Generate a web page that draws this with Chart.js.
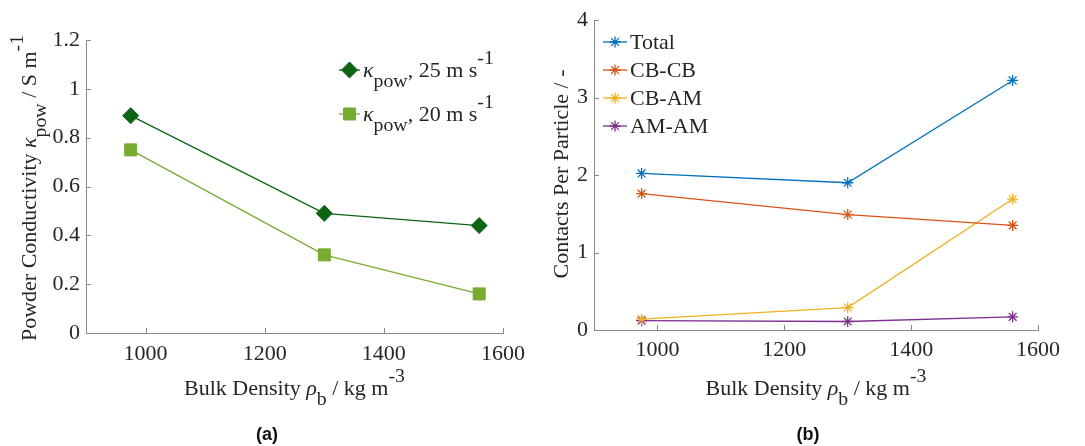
<!DOCTYPE html>
<html>
<head>
<meta charset="utf-8">
<script src="https://cdn.jsdelivr.net/npm/chart.js@4.4.1/dist/chart.umd.min.js"></script>
<style>
  body { margin: 0; background: #fff; }
  #wrap { position: relative; width: 1085px; height: 446px; overflow: hidden; }
  .panel { position: absolute; top: 0; }
  .tag { position: absolute; top: 424px; font: bold 18px "Liberation Sans", Arial, sans-serif; color: #111; transform: translateX(-50%); }
</style>
</head>
<body>
<div id="wrap">
  <canvas id="chartA" class="panel" style="left:0" width="540" height="446"></canvas>
  <canvas id="chartB" class="panel" style="left:540px" width="545" height="446"></canvas>
  <div class="tag" style="left:267px">(a)</div>
  <div class="tag" style="left:808px">(b)</div>
</div>
<script>
// panel (a): powder conductivity
const densityA = [975, 1300, 1560];
const kappa25 = [0.89, 0.49, 0.44];
const kappa20 = [0.75, 0.32, 0.16];
const yTicksA = [0, 0.2, 0.4, 0.6, 0.8, 1, 1.2];
const yLabelsA = ["0", "0.2", "0.4", "0.6", "0.8", "1", "1.2"];

// panel (b): contacts per particle
const densityB = [975, 1300, 1560];
const total = [2.02, 1.90, 3.22];
const cbcb = [1.76, 1.49, 1.35];
const cbam = [0.14, 0.29, 1.69];
const amam = [0.12, 0.11, 0.17];
const yTicksB = [0, 1, 2, 3, 4];
const yLabelsB = ["0", "1", "2", "3", "4"];

const xTicks = [1000, 1200, 1400, 1600];
const xLabels = ["1000", "1200", "1400", "1600"];

// rich text pieces: [text, kind]  kind: "" normal, "i" italic, "sub", "sup"
const legendA = [
  [["κ", "i"], ["pow", "sub"], [", 25 m s", ""], ["-1", "sup"]],
  [["κ", "i"], ["pow", "sub"], [", 20 m s", ""], ["-1", "sup"]]
];
const legendB = [[["Total", ""]], [["CB-CB", ""]], [["CB-AM", ""]], [["AM-AM", ""]]];
const xTitle = [["Bulk Density ", ""], ["ρ", "i"], ["b", "sub"], [" / kg m", ""], ["-3", "sup"]];
const yTitleA = [["Powder Conductivity ", ""], ["κ", "i"], ["pow", "sub"], [" / S m", ""], ["-1", "sup"]];
const yTitleB = [["Contacts Per Particle / -", ""]];

const SERIF = '"Liberation Serif", "Times New Roman", serif';
const FS = 22;
const AXIS = "#8a8a8a";
const TXT = "#262626";

function pieceFont(kind) {
  const size = (kind === "sub" || kind === "sup") ? FS * 0.9 : FS;
  return (kind === "i" ? "italic " : "") + size + "px " + SERIF;
}

function richWidth(ctx, parts) {
  let w = 0;
  parts.forEach(([t, k]) => { ctx.font = pieceFont(k); w += ctx.measureText(t).width; });
  return w;
}

function drawRich(ctx, parts, x, y, center) {
  let cx = center ? x - richWidth(ctx, parts) / 2 : x;
  ctx.textAlign = "left";
  ctx.textBaseline = "alphabetic";
  parts.forEach(([t, k]) => {
    ctx.font = pieceFont(k);
    const dy = k === "sub" ? FS * 0.45 : k === "sup" ? -FS * 0.6 : 0;
    ctx.fillText(t, cx, y + dy);
    cx += ctx.measureText(t).width;
  });
}

// inward tick marks, axis titles and legend
const decor = {
  id: "decor",
  afterDraw(chart, args, o) {
    const { ctx, chartArea: a, scales: { x, y } } = chart;
    ctx.save();
    ctx.strokeStyle = AXIS;
    ctx.lineWidth = 1;
    ctx.beginPath();
    x.ticks.forEach(t => {
      const px = Math.round(x.getPixelForValue(t.value)) + 0.5;
      ctx.moveTo(px, a.bottom); ctx.lineTo(px, a.bottom - 5);
    });
    y.ticks.forEach(t => {
      const py = Math.round(y.getPixelForValue(t.value)) + 0.5;
      ctx.moveTo(a.left, py); ctx.lineTo(a.left + 5, py);
    });
    ctx.stroke();

    ctx.fillStyle = TXT;
    drawRich(ctx, xTitle, (a.left + a.right) / 2, o.xBase, true);
    ctx.save();
    ctx.translate(o.yBase, (a.top + a.bottom) / 2 + o.yShift);
    ctx.rotate(-Math.PI / 2);
    drawRich(ctx, o.yTitle, 0, 0, true);
    ctx.restore();

    // legend
    chart.data.datasets.forEach((ds, i) => {
      const ly = o.legY + i * o.legStep;
      ctx.strokeStyle = ds.borderColor;
      ctx.lineWidth = ds.borderWidth;
      ctx.beginPath();
      ctx.moveTo(o.legX, ly); ctx.lineTo(o.legX + o.legLen, ly);
      ctx.stroke();
      ctx.fillStyle = ds.pointBackgroundColor;
      ctx.strokeStyle = ds.borderColor;
      ctx.lineWidth = ds.pointBorderWidth;
      Chart.helpers.drawPoint(ctx, { pointStyle: ds.pointStyle, radius: ds.pointRadius, rotation: 0, borderWidth: ds.pointBorderWidth }, o.legX + o.legLen / 2, ly);
      ctx.fillStyle = TXT;
      drawRich(ctx, o.legend[i], o.legX + o.legLen + 3, ly + 7, false);
    });
    ctx.restore();
  }
};

function line(label, xs, ys, color, style, r) {
  return {
    label,
    data: xs.map((v, i) => ({ x: v, y: ys[i] })),
    borderColor: color,
    backgroundColor: color,
    pointBackgroundColor: color,
    borderWidth: 1.3,
    pointBorderWidth: style === "star" ? 1.3 : 1,
    pointStyle: style,
    pointRadius: r,
    pointHoverRadius: r,
    tension: 0
  };
}

function makeOptions(yMax, yTicks, yLabels, pad, yWidth, xHeight, xPad, decorOpts) {
  return {
    responsive: false,
    animation: false,
    events: [],
    layout: { padding: pad },
    plugins: { legend: { display: false }, tooltip: { enabled: false }, decor: decorOpts },
    scales: {
      x: {
        type: "linear", min: 900, max: 1600,
        afterBuildTicks: s => { s.ticks = xTicks.map(v => ({ value: v })); },
        afterFit: s => { s.height = xHeight; },
        grid: { display: false, drawTicks: false },
        border: { display: true, color: AXIS, width: 1 },
        ticks: {
          padding: xPad, color: TXT, font: { family: SERIF, size: FS },
          maxRotation: 0, autoSkip: false,
          callback: v => xLabels[xTicks.indexOf(v)]
        }
      },
      y: {
        type: "linear", min: 0, max: yMax,
        afterBuildTicks: s => { s.ticks = yTicks.map(v => ({ value: v })); },
        afterFit: s => { s.width = yWidth; },
        grid: { display: false, drawTicks: false },
        border: { display: true, color: AXIS, width: 1 },
        ticks: {
          padding: 6, color: TXT, font: { family: SERIF, size: FS },
          callback: v => yLabels[yTicks.indexOf(v)]
        }
      }
    }
  };
}

new Chart(document.getElementById("chartA"), {
  type: "line",
  data: {
    datasets: [
      line("κpow, 25 m s-1", densityA, kappa25, "#0d6415", "rectRot", 8),
      line("κpow, 20 m s-1", densityA, kappa20, "#77ac30", "rect", 8.5)
    ]
  },
  options: makeOptions(1.2, yTicksA, yLabelsA, { left: 0, top: 40, right: 37, bottom: 0 }, 86, 113, 8, {
    xBase: 395, yBase: 36, yShift: 1.5, yTitle: yTitleA,
    legX: 339, legY: 70, legStep: 44, legLen: 21, legend: legendA
  }),
  plugins: [decor]
});

new Chart(document.getElementById("chartB"), {
  type: "line",
  data: {
    datasets: [
      line("Total", densityB, total, "#0072bd", "star", 5.5),
      line("CB-CB", densityB, cbcb, "#d95319", "star", 5.5),
      line("CB-AM", densityB, cbam, "#edb120", "star", 5.5),
      line("AM-AM", densityB, amam, "#7e2f8e", "star", 5.5)
    ]
  },
  options: makeOptions(4, yTicksB, yLabelsB, { left: 0, top: 20, right: 47, bottom: 0 }, 54, 116, 7, {
    xBase: 395, yBase: 28, yShift: -1, yTitle: yTitleB,
    legX: 63, legY: 42, legStep: 28, legLen: 24, legend: legendB
  }),
  plugins: [decor]
});
</script>
</body>
</html>
